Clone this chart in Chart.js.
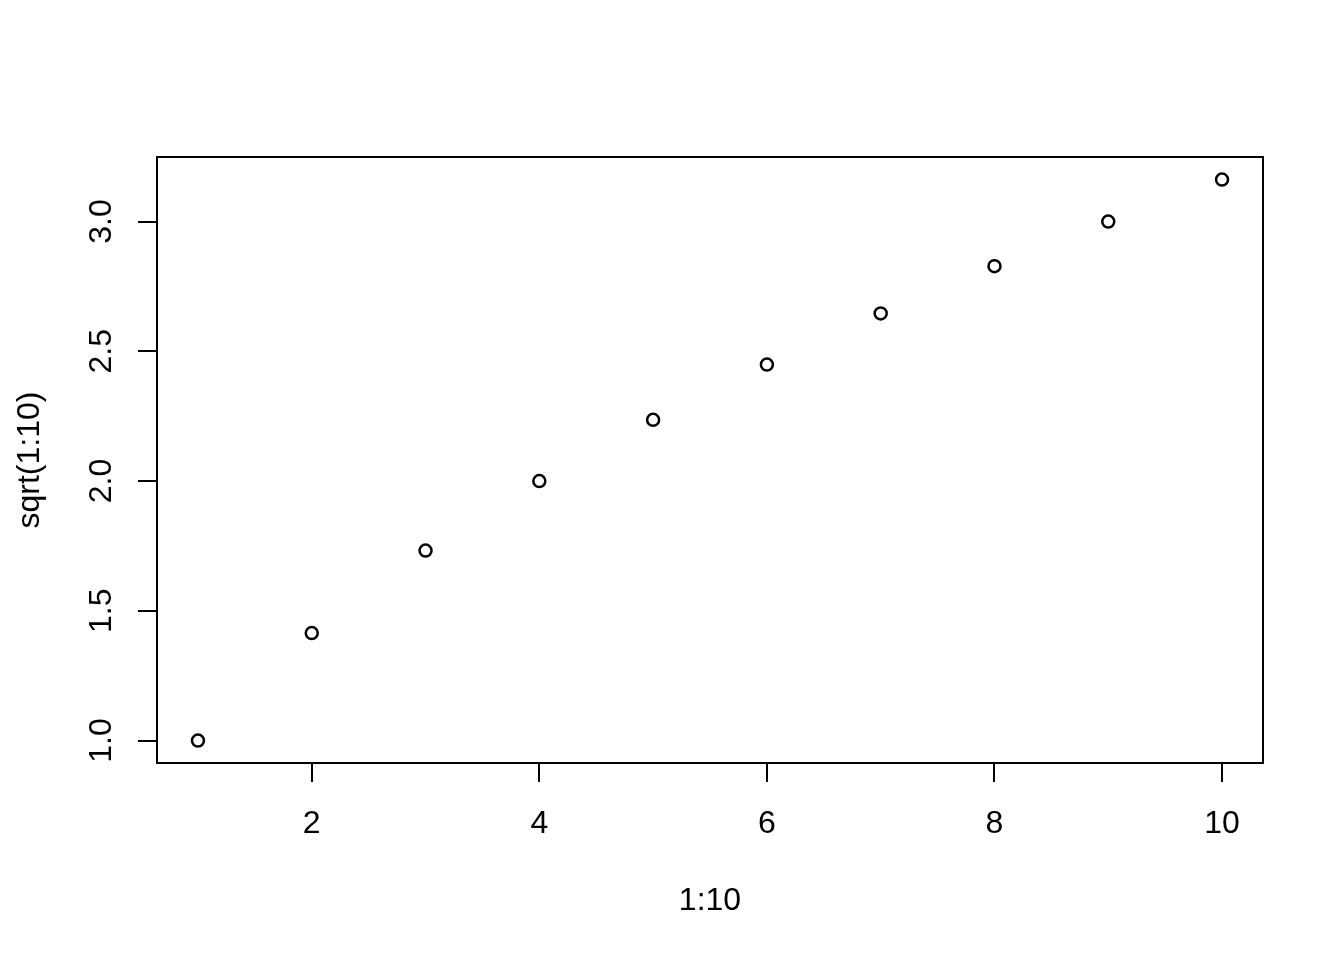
<!DOCTYPE html>
<html>
<head>
<meta charset="utf-8">
<script src="https://cdn.jsdelivr.net/npm/chart.js@4/dist/chart.umd.min.js"></script>
<style>
  html, body { margin: 0; padding: 0; background: #ffffff; }
  #wrap { width: 1344px; height: 960px; position: relative; }
</style>
</head>
<body>
<div id="wrap"><canvas id="c" width="1344" height="960"></canvas></div>
<script>
// ---- data ----
const xValues = [1, 2, 3, 4, 5, 6, 7, 8, 9, 10];
const yValues = [1.000, 1.414, 1.732, 2.000, 2.236, 2.449, 2.646, 2.828, 3.000, 3.162];
const xTickValues = [2, 4, 6, 8, 10];
const xTickLabels = ['2', '4', '6', '8', '10'];
const yTickValues = [1.0, 1.5, 2.0, 2.5, 3.0];
const yTickLabels = ['1.0', '1.5', '2.0', '2.5', '3.0'];
const xTitle = '1:10';
const yTitle = 'sqrt(1:10)';
const xRange = [0.64, 10.36];
const yRange = [0.9135, 3.2488];

const FONT = 'Liberation Sans, Arial, sans-serif';

const boxPlugin = {
  id: 'box',
  afterDraw(chart) {
    const {ctx, chartArea: a} = chart;
    ctx.save();
    ctx.strokeStyle = '#000';
    ctx.lineWidth = 2;
    ctx.strokeRect(a.left, a.top, a.right - a.left, a.bottom - a.top);
    ctx.restore();
  }
};

new Chart(document.getElementById('c'), {
  type: 'scatter',
  data: {
    datasets: [{
      data: xValues.map((x, i) => ({x: x, y: yValues[i]})),
      showLine: false,
      pointStyle: 'circle',
      pointRadius: 6,
      pointHoverRadius: 6,
      pointBorderWidth: 2.5,
      borderColor: '#000',
      backgroundColor: 'rgba(0,0,0,0)',
      pointBackgroundColor: 'rgba(0,0,0,0)'
    }]
  },
  options: {
    responsive: false,
    devicePixelRatio: 1,
    animation: false,
    layout: { padding: { left: 0, top: 157, right: 81, bottom: 0 } },
    plugins: { legend: { display: false }, tooltip: { enabled: false } },
    scales: {
      x: {
        type: 'linear',
        position: 'bottom',
        min: xRange[0],
        max: xRange[1],
        afterBuildTicks: s => { s.ticks = xTickValues.map(v => ({value: v})); },
        afterFit: s => { s.height = 197; },
        border: { display: false },
        grid: { display: true, drawOnChartArea: false, drawTicks: true, tickLength: 19, tickWidth: 2, tickColor: '#000', color: '#000', lineWidth: 2 },
        ticks: {
          autoSkip: false, maxRotation: 0, minRotation: 0, padding: 23,
          color: '#000', font: { family: FONT, size: 32 },
          callback: (v) => { const i = xTickValues.indexOf(v); return i >= 0 ? xTickLabels[i] : ''; }
        },
        title: { display: true, text: xTitle, color: '#000', font: { family: FONT, size: 32 }, padding: { top: 0, bottom: 40 } }
      },
      y: {
        type: 'linear',
        position: 'left',
        min: yRange[0],
        max: yRange[1],
        afterBuildTicks: s => { s.ticks = yTickValues.map(v => ({value: v})); },
        afterFit: s => { s.width = 157; },
        border: { display: false },
        grid: { display: true, drawOnChartArea: false, drawTicks: true, tickLength: 19, tickWidth: 2, tickColor: '#000', color: '#000', lineWidth: 2 },
        ticks: {
          autoSkip: false, minRotation: 90, maxRotation: 90, padding: 14, crossAlign: 'center',
          color: '#000', font: { family: FONT, size: 32 },
          callback: (v) => { const i = yTickValues.indexOf(v); return i >= 0 ? yTickLabels[i] : ''; }
        },
        title: { display: true, text: yTitle, color: '#000', font: { family: FONT, size: 32 }, padding: { top: 11, bottom: 0 } }
      }
    }
  },
  plugins: [boxPlugin]
});
</script>
</body>
</html>
